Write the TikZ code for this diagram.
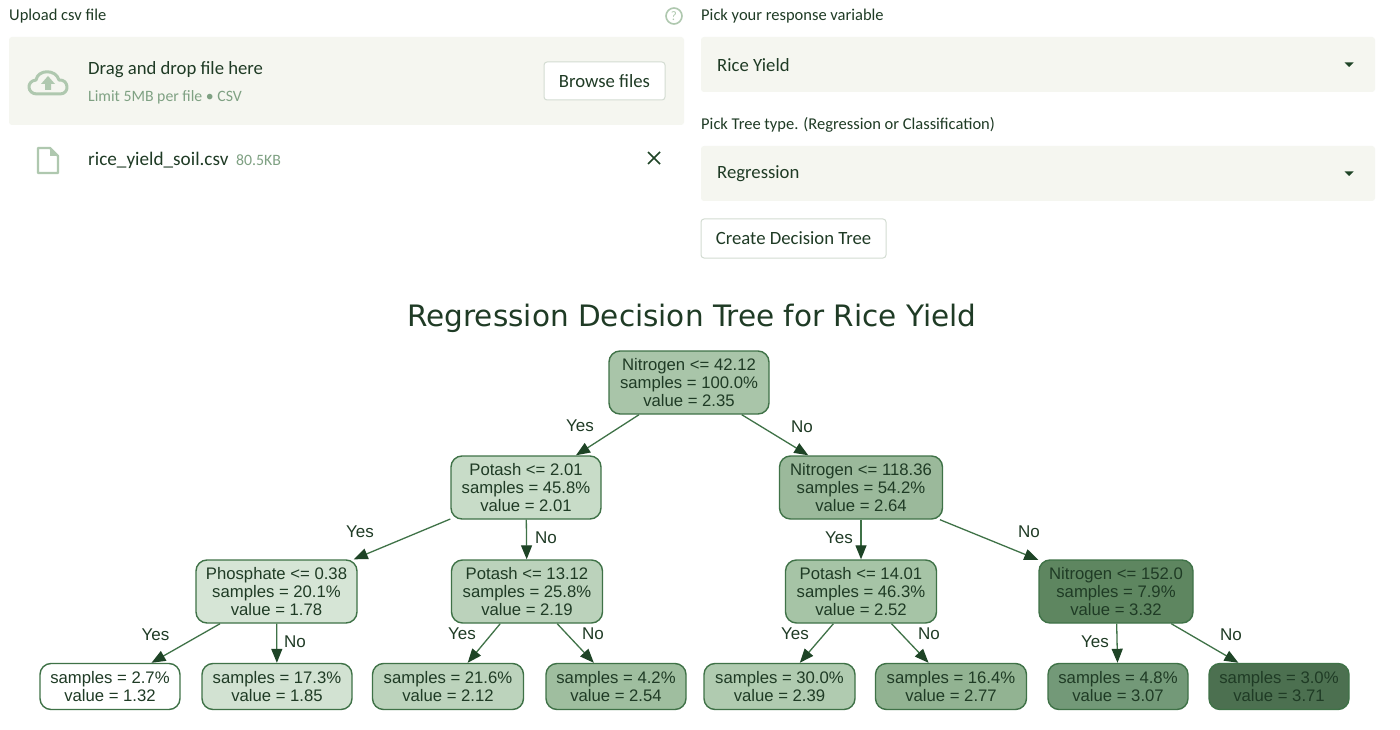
\documentclass[tikz,border=0pt]{standalone}
\usepackage{fontspec}
\setmainfont{Carlito}
\newfontfamily\treefont{Liberation Sans}
\newfontfamily\titlefont{DejaVu Sans}
\usetikzlibrary{arrows.meta}
\definecolor{ink}{HTML}{1F3B25}
\definecolor{muted}{HTML}{7FA183}
\definecolor{panel}{HTML}{F5F6F0}
\definecolor{btnline}{HTML}{D3DCD2}
\definecolor{iconc}{HTML}{AFC8AF}
\definecolor{treeline}{HTML}{3F7247}
\definecolor{tip}{HTML}{1E4426}
\tikzset{
  uitext/.style={anchor=west,inner sep=0pt,text=ink,font=\fontsize{18.7}{20}\selectfont},
  smalllabel/.style={anchor=west,inner sep=0pt,text=ink,font=\fontsize{16.5}{18}\selectfont},
  hint/.style={anchor=west,inner sep=0pt,text=muted,font=\fontsize{15.8}{18}\selectfont},
  panelbox/.style={fill=panel,draw=none,rounded corners=3pt},
  btn/.style={fill=white,draw=btnline,line width=1pt,rounded corners=3pt},
  tnode/.style={draw=treeline,line width=1.4pt,rounded corners=11pt,inner sep=0pt,align=center,
    text=ink,font=\treefont\fontsize{16.7}{17.8}\selectfont,execute at end node={\\[2pt]}},
  inner3/.style={tnode,minimum height=63pt},
  leaf/.style={tnode,minimum height=46pt},
  edge/.style={draw=treeline,line width=1.3pt,-{Triangle[length=14pt,width=11pt,color=tip,fill=tip]}},
  elabel/.style={inner sep=0pt,text=ink,font=\treefont\fontsize{17}{19}\selectfont},
}
\begin{document}
\begin{tikzpicture}[x=1pt,y=-1pt]
\useasboundingbox[fill=white] (0,0) rectangle (1400,730);
% upload panel
\node[smalllabel] (uplabel) at (9,16) {Upload csv file};
\draw[iconc,line width=1.6pt] (674,16) circle (8pt);
\node[inner sep=0pt,text=iconc,font=\fontsize{13}{13}\selectfont] (helpq) at (674,16) {?};
\fill[panelbox] (9,37) rectangle (684,125);
% cloud icon
\draw[iconc,line width=3pt,line join=round]
  (37,94) .. controls (27,94) and (26,81) .. (36,80)
  .. controls (38,69) and (56,69) .. (59,80)
  .. controls (69,79) and (70,94) .. (60,94) -- cycle;
\fill[iconc] (48,76) -- (55,84) -- (51,84) -- (51,90) -- (45,90) -- (45,84) -- (41,84) -- cycle;
\node[uitext] (dragt) at (88,69.5) {Drag and drop file here};
\node[hint] (limit) at (88,97) {Limit 5MB per file • CSV};
\node[btn,minimum width=121pt,minimum height=38pt,inner sep=0pt,text=ink,font=\fontsize{18.7}{20}\selectfont] (browse) at (604.5,81) {Browse files};
% file row
\draw[iconc,line width=2.4pt,line join=round] (38,148) -- (50,148) -- (58,156) -- (58,173) -- (38,173) -- cycle;
\fill[iconc] (50,148) -- (58,156) -- (50,156) -- cycle;
\node[uitext,font=\fontsize{19.2}{20}\selectfont] (fname) at (88,160) {rice\_yield\_soil.csv};
\node[hint] (fsize) at (236,160.5) {80.5KB};
\draw[tip,line width=1.6pt] (648,152) -- (660,164) (660,152) -- (648,164);
% right column
\node[smalllabel] (resp) at (701,16) {Pick your response variable};
\fill[panelbox] (701,37) rectangle (1375,92);
\node[uitext] (rice) at (717,65) {Rice Yield};
\fill[tip] (1344.5,62.5) -- (1353.5,62.5) -- (1349,67) -- cycle;
\node[smalllabel] (ttype) at (701,125) {Pick Tree type. (Regression or Classification)};
\fill[panelbox] (701,146) rectangle (1375,201);
\node[uitext] (regr) at (717,174) {Regression};
\fill[tip] (1344.5,171.5) -- (1353.5,171.5) -- (1349,176) -- cycle;
\node[btn,minimum width=185pt,minimum height=39pt,inner sep=0pt,text=ink,font=\fontsize{18.7}{20}\selectfont] (create) at (793.5,238.5) {Create Decision Tree};
% title
\node[inner sep=0pt,text=ink,font=\titlefont\fontsize{29.5}{32}\selectfont] (title) at (692,318) {Regression Decision Tree for Rice Yield};
% tree nodes
\node[inner3,minimum width=160pt,fill={rgb,255:red,169;green,197;blue,169}] (n0) at (689,382.5) {Nitrogen <= 42.12\\samples = 100.0\%\\value = 2.35};
\node[inner3,minimum width=150pt,fill={rgb,255:red,200;green,220;blue,200}] (n1) at (526,487.5) {Potash <= 2.01\\samples = 45.8\%\\value = 2.01};
\node[inner3,minimum width=163pt,fill={rgb,255:red,155;green,185;blue,155}] (n2) at (861,487.5) {Nitrogen <= 118.36\\samples = 54.2\%\\value = 2.64};
\node[inner3,minimum width=161pt,fill={rgb,255:red,214;green,229;blue,214}] (n3) at (276.5,591.5) {Phosphate <= 0.38\\samples = 20.1\%\\value = 1.78};
\node[inner3,minimum width=151pt,fill={rgb,255:red,187;green,210;blue,187}] (n4) at (527,591.5) {Potash <= 13.12\\samples = 25.8\%\\value = 2.19};
\node[inner3,minimum width=151pt,fill={rgb,255:red,166;green,196;blue,166}] (n5) at (861,591.5) {Potash <= 14.01\\samples = 46.3\%\\value = 2.52};
\node[inner3,minimum width=154pt,fill={rgb,255:red,94;green,134;blue,96}] (n6) at (1116,591.5) {Nitrogen <= 152.0\\samples = 7.9\%\\value = 3.32};
\node[leaf,minimum width=140pt,fill=white] (l1) at (110,686.5) {samples = 2.7\%\\value = 1.32};
\node[leaf,minimum width=150pt,fill={rgb,255:red,210;green,226;blue,210}] (l2) at (277,686.5) {samples = 17.3\%\\value = 1.85};
\node[leaf,minimum width=151pt,fill={rgb,255:red,188;green,211;blue,188}] (l3) at (448,686.5) {samples = 21.6\%\\value = 2.12};
\node[leaf,minimum width=140pt,fill={rgb,255:red,159;green,190;blue,159}] (l4) at (616,686.5) {samples = 4.2\%\\value = 2.54};
\node[leaf,minimum width=151pt,fill={rgb,255:red,176;green,203;blue,176}] (l5) at (779.5,686.5) {samples = 30.0\%\\value = 2.39};
\node[leaf,minimum width=151pt,fill={rgb,255:red,146;green,179;blue,146}] (l6) at (951,686.5) {samples = 16.4\%\\value = 2.77};
\node[leaf,minimum width=140pt,fill={rgb,255:red,115;green,153;blue,120}] (l7) at (1118,686.5) {samples = 4.8\%\\value = 3.07};
\node[leaf,minimum width=140pt,fill={rgb,255:red,76;green,112;blue,80}] (l8) at (1279,686.5) {samples = 3.0\%\\value = 3.71};
% edges
\draw[edge] (n0) -- (n1);
\draw[edge] (n0) -- (n2);
\draw[edge] (n1) -- (n3);
\draw[edge] (n1) -- (n4);
\draw[edge] (n2) -- (n5);
\draw[edge] (n2) -- (n6);
\draw[edge] (n3) -- (l1);
\draw[edge] (n3) -- (l2);
\draw[edge] (n4) -- (l3);
\draw[edge] (n4) -- (l4);
\draw[edge] (n5) -- (l5);
\draw[edge] (n5) -- (l6);
\draw[edge] (n6) -- (l7);
\draw[edge] (n6) -- (l8);
% edge labels
\node[elabel] (e1) at (580,425.5) {Yes};
\node[elabel] (e2) at (802,426.5) {No};
\node[elabel] (e3) at (360,531.5) {Yes};
\node[elabel] (e4) at (546,538) {No};
\node[elabel] (e5) at (839,538) {Yes};
\node[elabel] (e6) at (1029,532) {No};
\node[elabel] (e7) at (155.5,634.5) {Yes};
\node[elabel] (e8) at (295,642) {No};
\node[elabel] (e9) at (462,634) {Yes};
\node[elabel] (e10) at (593,634) {No};
\node[elabel] (e11) at (795,634) {Yes};
\node[elabel] (e12) at (929,634) {No};
\node[elabel] (e13) at (1095,642) {Yes};
\node[elabel] (e14) at (1231,635) {No};
\end{tikzpicture}
\end{document}
